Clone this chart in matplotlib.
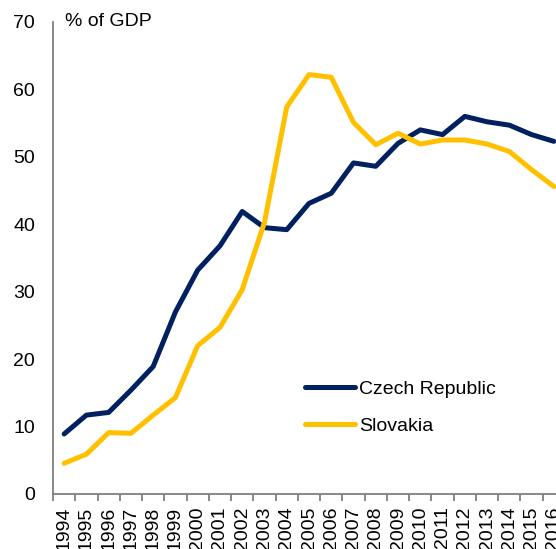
import matplotlib
matplotlib.use("Agg")
import matplotlib.pyplot as plt
import numpy as np

years = [str(y) for y in range(1994, 2017)]
czech = [8.9, 11.7, 12.1, 15.4, 18.9, 27.0, 33.2, 36.8, 41.9, 39.5, 39.2, 43.1,
         44.6, 49.1, 48.6, 52.0, 54.0, 53.3, 56.0, 55.2, 54.7, 53.3, 52.3]
slovakia = [4.55, 5.9, 9.1, 9.0, 11.7, 14.3, 22.0, 24.7, 30.3, 40.3, 57.4, 62.2,
            61.8, 55.1, 51.8, 53.5, 51.9, 52.5, 52.5, 51.9, 50.8, 48.1, 45.6]
yticks = [0, 10, 20, 30, 40, 50, 60, 70]

plt.rcParams['font.family'] = ['Liberation Sans', 'DejaVu Sans']

fig = plt.figure(figsize=(5.56, 5.49), dpi=100)
ax = fig.add_axes([53 / 556, 55 / 549, 512 / 556, 472 / 549])

x = np.arange(len(years))
ax.plot(x, czech, color='#002060', lw=3.6, label='Czech Republic', solid_capstyle='round')
ax.plot(x, slovakia, color='#FFC000', lw=3.6, label='Slovakia', solid_capstyle='round')

ax.set_xlim(-0.5, len(years) - 0.5)
ax.set_ylim(0, 70)
ax.set_yticks(yticks)
ax.set_xticks(x)
ax.set_xticklabels(years, rotation=90, fontsize=14)
ax.set_xticks(np.arange(-0.5, len(years)), minor=True)
ax.tick_params(axis='x', which='major', length=0, pad=9)
ax.tick_params(axis='x', which='minor', length=5, width=1.3, color='#808080')
ax.tick_params(axis='y', length=0, pad=13, labelsize=14)

for s in ['top', 'right']:
    ax.spines[s].set_visible(False)
for s in ['left', 'bottom']:
    ax.spines[s].set_color('#808080')
    ax.spines[s].set_linewidth(1.3)

ax.text(0.05, 70, '% of GDP', fontsize=14, va='center', ha='left')

fig.legend(loc='upper left', bbox_to_anchor=(305 / 556, 1 - 380 / 549), frameon=False,
           fontsize=14, handlelength=2.57, handletextpad=0.2, labelspacing=1.0,
           borderpad=0, borderaxespad=0)

fig.savefig('out.png', dpi=100)
